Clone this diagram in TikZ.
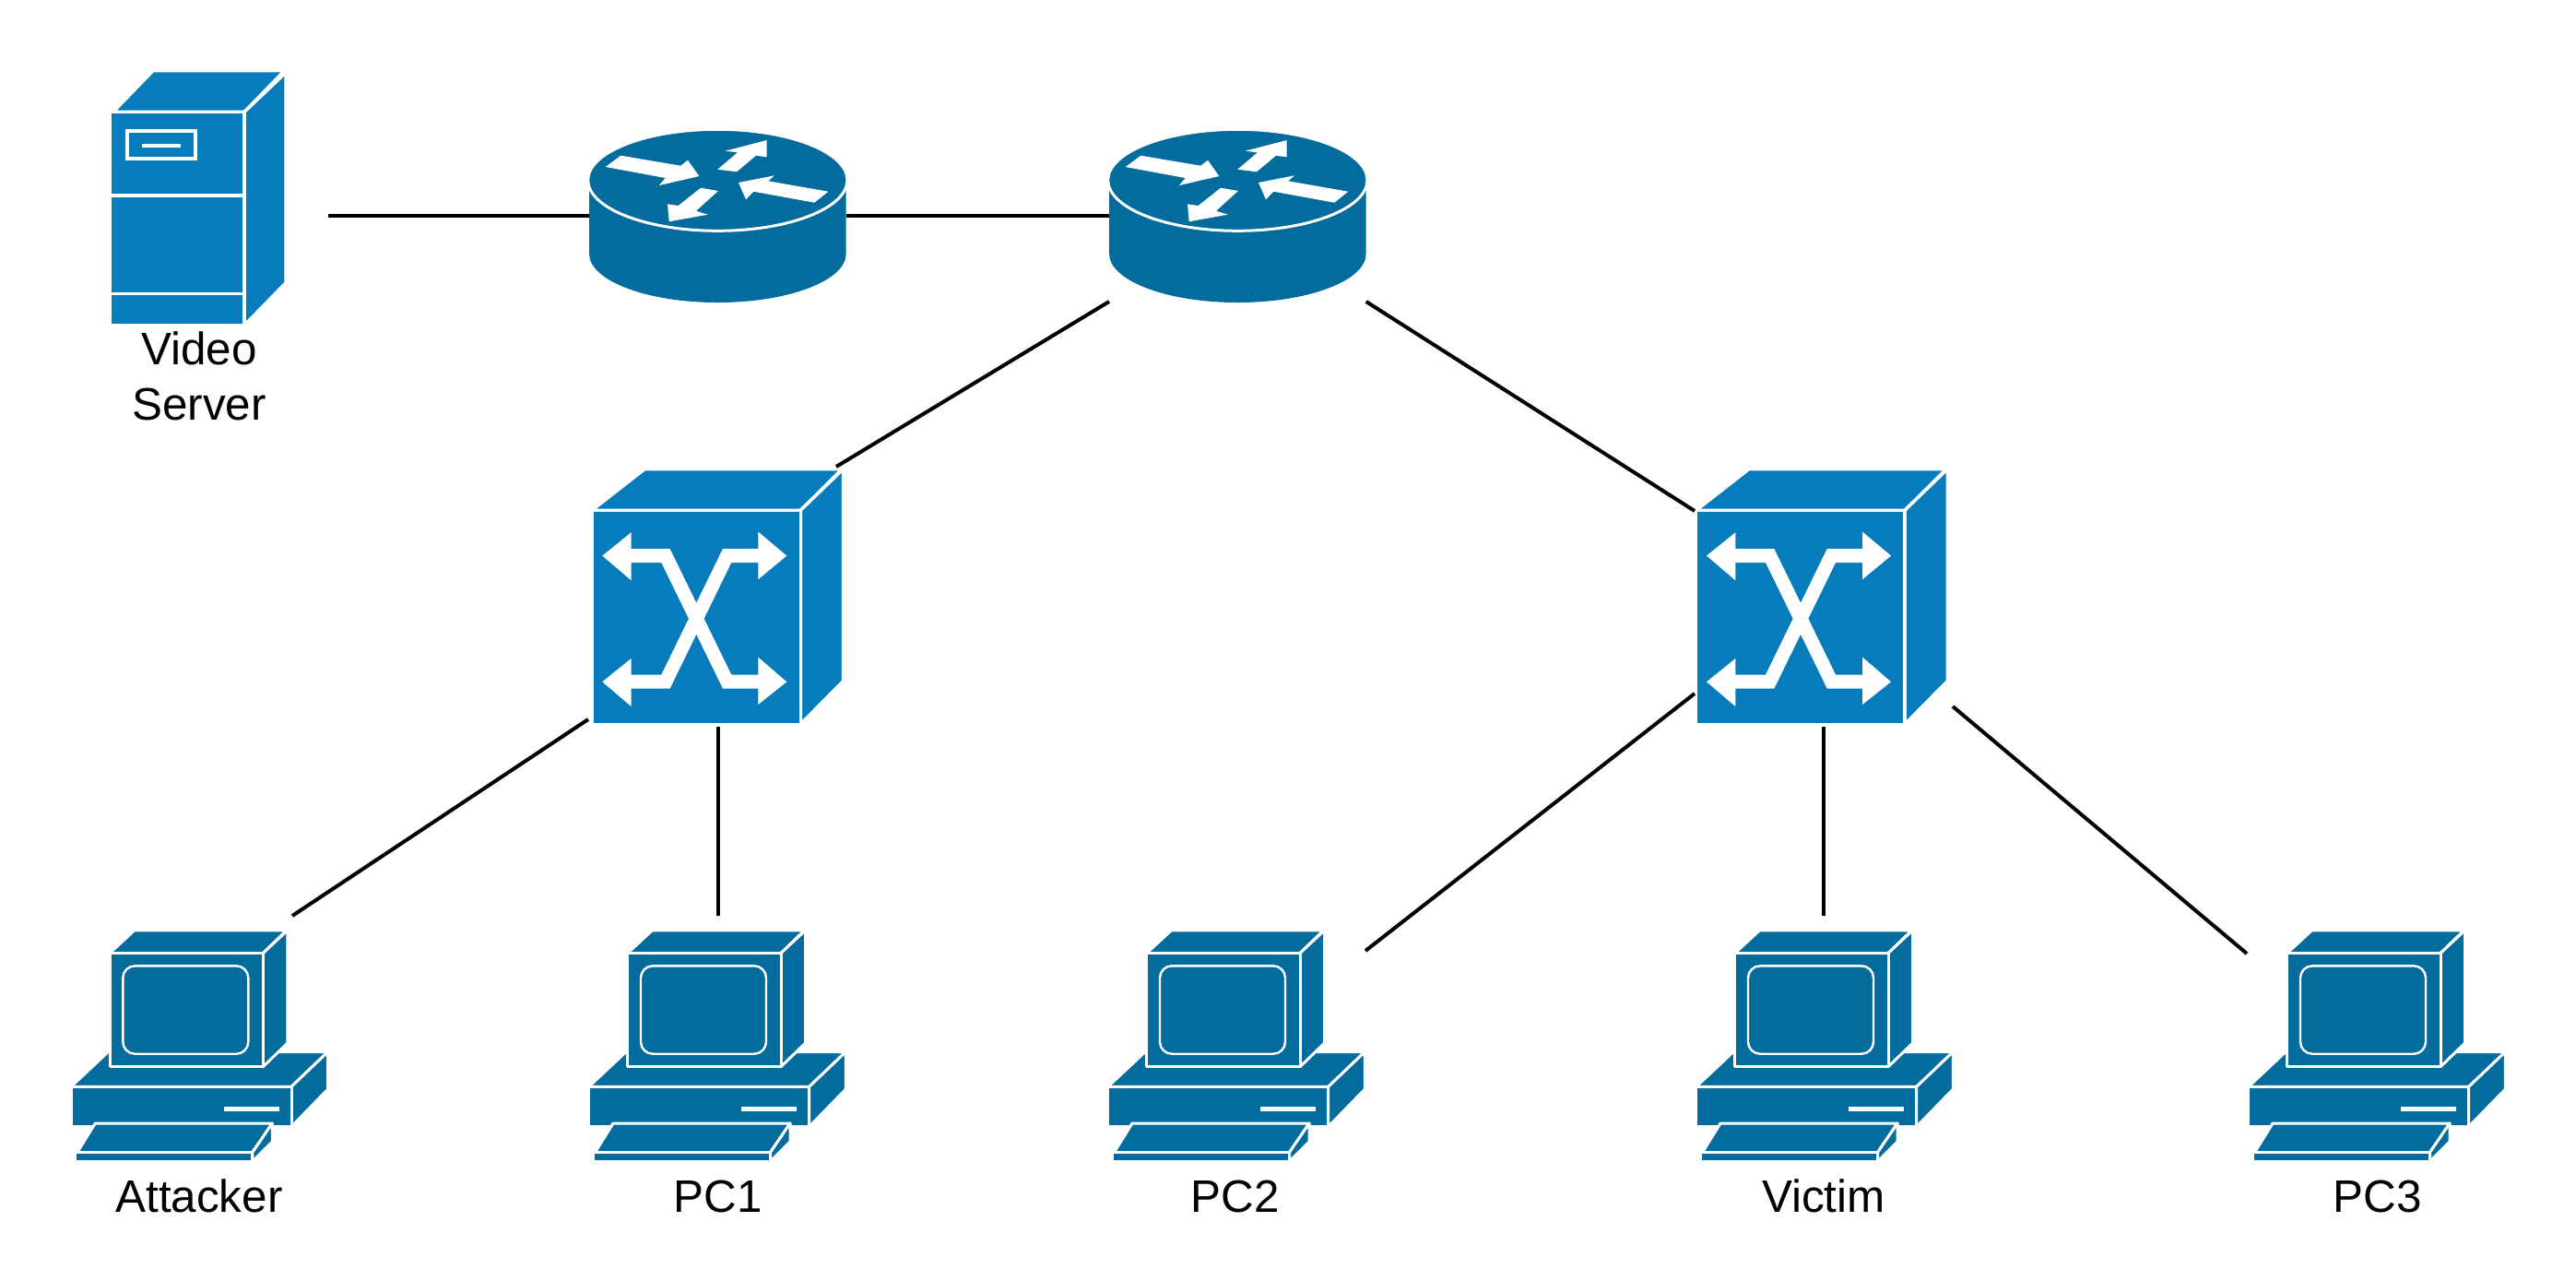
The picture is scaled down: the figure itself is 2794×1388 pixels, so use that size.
\documentclass[tikz,border=0pt]{standalone}
\usepackage{fontspec}
\setmainfont{Liberation Sans}
\usetikzlibrary{calc}

\tikzset{
  iconbox/.style={inner sep=0pt, outer sep=0pt, anchor=north west},
  iconlabel/.style={inner sep=0pt, anchor=base, font=\fontsize{24.7}{30}\selectfont, align=center},
  lightface/.style={fill=lightblue, draw=white, line width=1.7pt, line join=miter},
  darkface/.style={fill=darkblue, draw=white, line width=1.5pt, line join=round},
  glyph/.style={fill=white, draw=none},
  link/.style={draw=black, line width=2pt},
  pics/servericon/.style={code={
    \node[iconbox, minimum width=94.5pt, minimum height=137.5pt] (-box) at (0,0) {};
    \path[lightface] (2,43.7) -- (45.3,-1) -- (187.7,-1) -- (144.3,43.7) -- cycle;
    \path[lightface] (144.3,43.7) -- (189.3,1) -- (189.3,229) -- (144.3,275) -- cycle;
    \path[lightface] (-1,43.7) rectangle (144.3,275.3);
    \draw[white, line width=1.8pt] (-1,134) -- (144.3,134);
    \draw[white, line width=1.8pt] (-1,240.7) -- (144.3,240.7);
    \draw[white, line width=1.8pt] (17,64.3) rectangle (91.3,94.3);
    \draw[white, line width=1.8pt] (33.3,80) -- (75.3,80);
  }},
  pics/routericon/.style={code={
    \node[iconbox, minimum width=139.35pt, minimum height=93pt] (-box) at (0,0) {};
    \path[fill=darkblue] (0,54.3) -- (0,134)
      arc [start angle=180, end angle=360, x radius=69.67pt, y radius=26.5pt]
      -- (278.7,54.3) -- cycle;
    \path[darkface] (139.35,54.3) ellipse [x radius=70.3pt, y radius=27.5pt];
    \path[glyph] (34.3,27.7) -- (17.7,40) -- (82.7,52) -- (76,60) -- (119.3,50) -- (107,32.7) -- (99.3,38.7) -- cycle;
    \path[glyph] (139.3,42.7) -- (160,45.3) -- (181,27.7) -- (192.7,29.3) -- (192.7,11) -- (147.7,22.7) -- (161,24.3) -- cycle;
    \path[glyph] (259.3,66.7) -- (244.3,78.7) -- (178.3,66.7) -- (170,75.3) -- (162,57) -- (201,49.3) -- (194.3,55.3) -- cycle;
    \path[glyph] (121,62.7) -- (140,66) -- (116,87.7) -- (128.7,91.7) -- (86.7,99.3) -- (85,80.3) -- (96.7,82) -- cycle;
  }},
  pics/switchicon/.style={code={
    \node[iconbox, minimum width=135pt, minimum height=137.35pt] (-box) at (0,0) {};
    \path[lightface] (-1.3,44) -- (56,-0.7) -- (270,-0.7) -- (225,44) -- cycle;
    \path[lightface] (225,44) -- (271.3,-0.7) -- (271.3,229) -- (225,276) -- cycle;
    \path[lightface] (-1.3,44) rectangle (225,276);
    \path[glyph] (10,93.3) -- (41.3,68) -- (41.3,85.7) -- (83.3,85.7) -- (150,222.3) -- (179,222.3) -- (179,203.3) -- (210,230)
      -- (179,254.7) -- (179,237.3) -- (140.7,237.3) -- (74,100.7) -- (41.3,100.7) -- (41.3,120) -- cycle;
    \path[glyph] (210,93.3) -- (179,67.3) -- (179,85.7) -- (140.7,85.7) -- (74,222.3) -- (41.3,222.3) -- (41.3,204.7) -- (10,230)
      -- (41.3,256.7) -- (41.3,237.3) -- (83.3,237.3) -- (150,100.7) -- (179,100.7) -- (179,119) -- cycle;
  }},
  pics/pcicon/.style={code={
    \node[iconbox, minimum width=138pt, minimum height=124pt] (-box) at (0,0) {};
    % base
    \path[darkface] (-1.25,168.3) -- (39,130.5) -- (277.3,130.5) -- (237.7,168.3) -- cycle;
    \path[darkface] (237.7,168.3) -- (277.3,130.5) -- (277.3,171) -- (237.7,211.7) -- cycle;
    \path[darkface] (-1.25,168.3) rectangle (237.7,211.7);
    \path[glyph] (164.3,190) rectangle (224.3,195.3);
    % monitor
    \path[darkface] (40.7,23.5) -- (67.5,-1.25) -- (232.5,-1.25) -- (207,23.5) -- cycle;
    \path[darkface] (207,23.5) -- (233.5,-1.25) -- (233.5,121) -- (207,146.7) -- cycle;
    \path[darkface] (40.7,23.5) rectangle (207,146.7);
    \draw[white, line width=1.2pt, rounded corners=6.5pt] (55,37.3) rectangle (191,132.7);
    % keyboard
    \path[darkface] (5.5,239.5) -- (25,208) -- (217,208) -- (195.5,239.5) -- cycle;
    \path[darkface] (195.5,239.5) -- (217,208) -- (217,228) -- (195.5,249.5) -- cycle;
    \path[darkface] (3,239.5) rectangle (195.5,249.5);
  }}
}

\begin{document}
\begin{tikzpicture}[x=0.5pt,y=-0.5pt]
\definecolor{lightblue}{HTML}{077CBC}
\definecolor{darkblue}{HTML}{036C9C}
  \useasboundingbox (0,0) rectangle (2794,1388);

  \pic (server) at (120.7,77.7) {servericon};
  \node[iconlabel] (serverlabel) at (216,455) {Video\\Server};

  \pic (router1) at (639,141) {routericon};
  \pic (router2) at (1203,141) {routericon};
  \pic (switch1) at (643.3,509.3) {switchicon};
  \pic (switch2) at (1841,509.3) {switchicon};

  \foreach \pcname/\pcx/\labelx/\pctext in {attacker/78.3/216/Attacker, pc1/640/779/PC1,
      pc2/1203/1340/PC2, victim/1841/1978/Victim, pc3/2440/2579/PC3}{
    \pic (\pcname) at (\pcx,1010) {pcicon};
    \node[iconlabel] (\pcname label) at (\labelx,1314) {\pctext};
  }

  % free ends of the links
  \coordinate (serverport) at (356,234);
  \coordinate (attackerport) at (317,993);
  \coordinate (pc1port) at (779,993);
  \coordinate (pc2port) at (1481,1031);
  \coordinate (victimport) at (1978,993);
  \coordinate (pc3port) at (2437,1034);
  \coordinate (switch1in) at (907,506);
  \coordinate (switch2in) at (1838,554);
  \coordinate (switch1a) at (638,780);
  \coordinate (switch1b) at (779,788);
  \coordinate (switch2a) at (1838,752);
  \coordinate (switch2b) at (1978,788);
  \coordinate (switch2c) at (2118,766);

  \draw[link] (serverport) -- (router1-box.west);
  \draw[link] (router1-box.east) -- (router2-box.west);
  \draw[link] (router2-box.south west) -- (switch1in);
  \draw[link] (router2-box.south east) -- (switch2in);
  \draw[link] (switch1a) -- (attackerport);
  \draw[link] (switch1b) -- (pc1port);
  \draw[link] (switch2a) -- (pc2port);
  \draw[link] (switch2b) -- (victimport);
  \draw[link] (switch2c) -- (pc3port);
\end{tikzpicture}
\end{document}
